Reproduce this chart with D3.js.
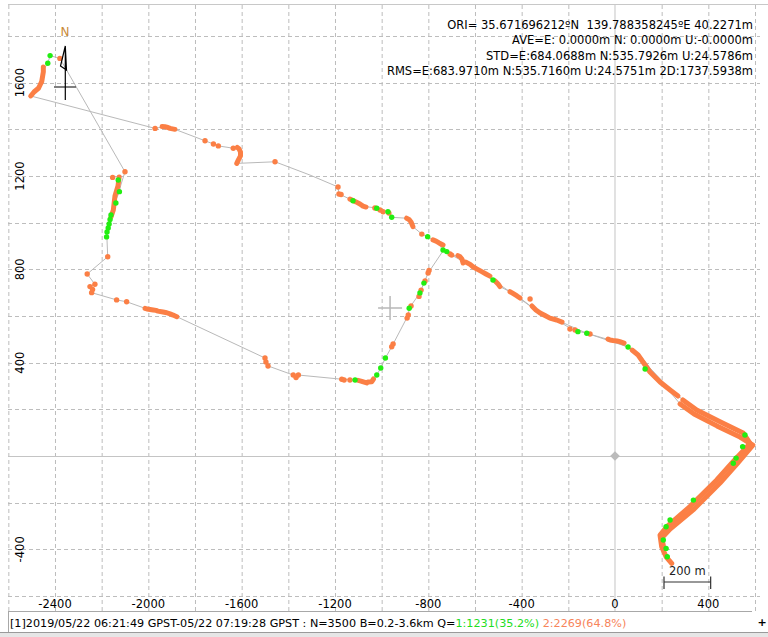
<!DOCTYPE html>
<html>
<head>
<meta charset="utf-8">
<script src="https://cdn.jsdelivr.net/npm/d3@7"></script>
<style>
  body { margin: 0; background: #fff; }
  svg { display: block; font-family: "DejaVu Sans", Tahoma, sans-serif; }
</style>
</head>
<body>
<script>
// ticks and header text
const xTicks = [-2400, -2000, -1600, -1200, -800, -400, 0, 400];
const yTicks = [1600, 1200, 800, 400, -400];
const gridX = d3.range(-2600, 601, 200);
const gridY = d3.range(-600, 1801, 200);
const statLines = [
  "ORI= 35.671696212\u00baN  139.788358245\u00baE 40.2271m",
  "AVE=E: 0.0000m N: 0.0000m U:-0.0000m",
  "STD=E:684.0688m N:535.7926m U:24.5786m",
  "RMS=E:683.9710m N:535.7160m U:24.5751m 2D:1737.5938m"
];
const statusParts = [
  ["[1]2019/05/22 06:21:49 GPST-05/22 07:19:28 GPST : N=3500 B=0.2-3.6km Q=", "#000"],
  ["1:1231(35.2%) ", "#22dd22"],
  ["2:2269(64.8%)", "#f7845a"]
];
const avgPos = [-964, 634];

// track (E, N in metres)
const trackOut = [[243,-460],[219,-432],[200,-389],[193,-339],[222,-303],[321,-217],[436,-103],[506,-24],[579,54],[570,77],[549,99],[450,147],[350,197],[291,240],[214,309],[150,377],[107,433],[56,467],[-21,497],[-121,526],[-180,540],[-250,583],[-293,597],[-351,634],[-407,677],[-450,704],[-493,726],[-523,754],[-571,790],[-609,811],[-664,854],[-700,861],[-737,883],[-764,918],[-803,940],[-828,951],[-866,983],[-893,1019],[-957,1023],[-973,1047],[-1021,1062],[-1080,1071],[-1136,1101],[-1183,1123],[-1187,1153],[-1307,1204],[-1457,1261],[-1621,1254],[-1614,1269],[-1600,1297],[-1619,1323],[-1636,1319],[-1700,1329],[-1757,1351],[-1886,1400],[-1936,1411],[-1971,1404],[-2504,1543],[-2471,1576],[-2457,1604],[-2450,1654],[-2431,1683],[-2421,1716],[-2379,1704]];
const trackLoop = [[-2379,1704],[-2100,1218],[-2118,1161],[-2124,1133],[-2139,1097],[-2150,1054],[-2164,1011],[-2178,947],[-2174,854],[-2262,780],[-2229,736],[-2250,726],[-2243,700],[-2136,669],[-2093,661],[-2014,633],[-1979,626],[-1921,614],[-1878,597],[-1500,420],[-1487,386],[-1379,347],[-1357,347],[-1171,329],[-1114,326],[-1064,313],[-1043,318],[-1021,347],[-1004,377],[-984,420],[-957,468],[-886,604],[-882,633],[-836,699],[-819,741],[-801,784],[-737,879]];
const trackBack = [[-737,879],[-700,861],[-609,811],[-523,754],[-450,704],[-351,634],[-250,583],[-121,526],[56,467],[150,377],[279,223],[339,180],[437,129],[536,81],[591,47],[523,-34],[450,-116],[339,-227],[236,-313],[201,-351],[210,-399],[243,-460]];

// float (Q=2) dense runs
const floatRuns = [
  [[-2450,1667],[-2450,1646],[-2457,1604],[-2464,1590],[-2471,1576],[-2490,1560],[-2504,1543]],
  [[-1619,1323],[-1611,1316],[-1605,1303],[-1605,1286],[-1614,1269],[-1621,1254]],
  [[-2125,1196],[-2130,1157],[-2143,1114],[-2150,1054],[-2160,1024]],
  [[-1941,1412],[-1929,1411],[-1916,1408],[-1907,1404],[-1886,1400]],
  [[-2014,633],[-2006,630],[-1979,626],[-1967,624],[-1959,621],[-1937,617],[-1921,614],[-1907,609],[-1894,604],[-1878,597]],
  [[-1136,1101],[-1127,1097],[-1110,1089],[-1093,1080],[-1080,1071],[-1067,1067]],
  [[-893,1019],[-883,1014],[-874,1003],[-866,983]],
  [[-780,926],[-767,921],[-754,913],[-737,904]],
  [[-673,859],[-664,854],[-656,844],[-651,827]],
  [[-639,831],[-621,821],[-609,811],[-591,801],[-571,790],[-553,780],[-536,771]],
  [[-514,750],[-501,737],[-493,726]],
  [[-450,704],[-441,699],[-420,686],[-407,677]],
  [[-356,643],[-339,626],[-321,613],[-300,602],[-279,591],[-250,583],[-227,574]],
  [[-30,501],[-21,497],[-9,495],[9,493],[21,490],[39,484]],
  [[73,454],[99,433],[120,403],[150,360],[193,317],[236,283],[270,257]],
  [[291,240],[350,197],[450,147],[549,99],[579,54],[506,-24],[436,-103],[321,-217],[222,-303],[193,-339],[200,-389],[219,-432],[243,-460]],
  [[279,223],[339,180],[437,129],[536,81],[591,47],[523,-34],[450,-116],[339,-227],[236,-313],[201,-351],[210,-399]],
  [[-1101,324],[-1089,321],[-1064,313],[-1059,317],[-1043,318],[-1035,330]]
];
// float (Q=2) single points
const floatPts = [[-2379,1704],[-1971,1404],[-1757,1351],[-1721,1337],[-1700,1329],[-1636,1319],[-1457,1261],
  [-2100,1218],[-2153,1194],[-2174,854],[-2262,780],[-2229,736],[-2250,726],[-2243,700],[-2239,714],[-2136,669],[-2093,661],
  [-1500,420],[-1496,403],[-1487,386],[-1379,347],[-1367,336],[-1357,347],[-1171,329],[-1161,326],[-1136,326],
  [-957,468],[-951,480],[-891,591],[-886,604],[-874,643],[-840,684],[-831,711],[-814,750],[-801,784],[-797,795],
  [-1187,1153],[-1183,1123],[-1174,1121],[-1029,1063],[-1007,1054],[-994,1047],[-969,1041],[-828,951],[-707,866],[-700,861],
  [-364,673],[-193,544],[-171,540],[-107,523]];
// fix (Q=1) points
const fixPts = [[-2421,1716],[-2431,1683],[-2129,1183],[-2124,1133],[-2139,1084],[-2160,1033],[-2164,1014],[-2168,994],[-2172,977],[-2177,960],[-2179,939],
  [-1114,326],[-1021,347],[-1004,377],[-984,420],[-882,633],[-836,699],[-819,741],
  [-1123,1094],[-1021,1062],[-973,1047],[-957,1023],[-803,940],[-737,883],[-721,876],[-523,754],[-159,533],[-121,526],[56,467],[129,373],
  [557,90],[547,40],[507,-31],[519,-9],[336,-189],[236,-274],[219,-303],[207,-360],[219,-396],[224,-432]];

const W = 768, H = 637;
const cFloat = "#fb7f45", cFix = "#22ee11", cGrid = "#bdbdbd";

const svg = d3.select("body").append("svg").attr("width", W).attr("height", H);
svg.append("rect").attr("width", W).attr("height", H).attr("fill", "#fff");

const x = d3.scaleLinear().domain([-2600, 600]).range([8.33, 755]);
const y = d3.scaleLinear().domain([-600, 1800]).range([596, 36]);

const plot = svg.append("g");
plot.append("clipPath").attr("id", "clip").append("rect")
  .attr("x", 8).attr("y", 5).attr("width", 752).attr("height", 606);

// grid
const grid = plot.append("g").attr("stroke", cGrid).attr("stroke-dasharray", "4,3");
grid.selectAll(".gx").data(gridX.filter(d => d !== 0)).enter().append("line")
  .attr("x1", d => x(d) + 0.5).attr("x2", d => x(d) + 0.5).attr("y1", 5).attr("y2", 611);
grid.selectAll(".gy").data(gridY.filter(d => d !== 0)).enter().append("line")
  .attr("y1", d => Math.round(y(d)) + 0.5).attr("y2", d => Math.round(y(d)) + 0.5).attr("x1", 8).attr("x2", 760);
plot.append("line").attr("x1", x(0)).attr("x2", x(0)).attr("y1", 5).attr("y2", 611).attr("stroke", "#c4c4c4");
plot.append("line").attr("y1", Math.round(y(0)) + 0.5).attr("y2", Math.round(y(0)) + 0.5).attr("x1", 8).attr("x2", 760).attr("stroke", "#c4c4c4");

// frame
svg.append("line").attr("x1", 8).attr("x2", W).attr("y1", 4.5).attr("y2", 4.5).attr("stroke", "#c8c8c8");

// origin diamond and average cross
plot.append("path").attr("d", d3.symbol(d3.symbolDiamond2, 60)())
  .attr("transform", `translate(${x(0)},${y(0)})`).attr("fill", "#bbbbbb");
const ax = x(avgPos[0]), ay = y(avgPos[1]);
plot.append("path").attr("d", `M${ax - 12},${ay}H${ax + 12}M${ax},${ay - 12}V${ay + 12}`)
  .attr("stroke", "#b8b8b8").attr("stroke-width", 1.5);

// track line
const line = d3.line().x(d => x(d[0])).y(d => y(d[1]));
const tr = plot.append("g").attr("clip-path", "url(#clip)");
[trackOut, trackLoop, trackBack].forEach(t => {
  tr.append("path").datum(t).attr("d", line).attr("fill", "none").attr("stroke", "#b9b9b9").attr("stroke-width", 1);
});

// float runs and points
tr.selectAll(".run").data(floatRuns).enter().append("path")
  .attr("d", line).attr("fill", "none").attr("stroke", cFloat)
  .attr("stroke-width", 5).attr("stroke-linecap", "round").attr("stroke-linejoin", "round");
tr.selectAll(".fp").data(floatPts).enter().append("circle")
  .attr("cx", d => x(d[0])).attr("cy", d => y(d[1])).attr("r", 2.7).attr("fill", cFloat);
tr.selectAll(".xp").data(fixPts).enter().append("circle")
  .attr("cx", d => x(d[0])).attr("cy", d => y(d[1])).attr("r", 2.7).attr("fill", cFix);

// north arrow
const na = svg.append("g");
na.append("text").attr("x", 65).attr("y", 36).attr("text-anchor", "middle")
  .style("font-size", "12px").attr("fill", "#c98a3a").text("N");
na.append("path").attr("d", "M65.3,46 L60.5,66 L66.5,70 Z M65.3,46 V100 M54,87 H76")
  .attr("stroke", "#000").attr("stroke-width", 1.2).attr("fill", "none");

// axis labels
const lab = svg.append("g").style("font-size", "11.5px").attr("fill", "#000");
lab.selectAll(".xl").data(xTicks).enter().append("text")
  .attr("x", d => x(d)).attr("y", 608).attr("text-anchor", "middle").text(d => d);
lab.selectAll(".yl").data(yTicks).enter().append("text")
  .attr("transform", d => `translate(24,${y(d)}) rotate(-90)`).attr("text-anchor", "middle").text(d => d);

// stats text
svg.append("g").selectAll("text").data(statLines).enter().append("text")
  .attr("x", 753).attr("y", (d, i) => 29 + i * 15.4).attr("text-anchor", "end")
  .style("font-size", "11.5px").style("white-space", "pre").text(d => d);

// scale bar
const sb = svg.append("g").attr("stroke", "#333").attr("stroke-width", 1.2);
const sb0 = x(210), sb1 = x(410);
sb.append("path").attr("d", `M${sb0},576.5V589M${sb0},582H${sb1}M${sb1},576.5V589`).attr("fill", "none");
svg.append("text").attr("x", (sb0 + sb1) / 2).attr("y", 575).attr("text-anchor", "middle")
  .style("font-size", "11.5px").attr("fill", "#222").text("200 m");

// status bar
svg.append("line").attr("x1", 8).attr("x2", 752).attr("y1", 611.5).attr("y2", 611.5).attr("stroke", "#a8a8a8");
svg.append("line").attr("x1", 8.5).attr("x2", 8.5).attr("y1", 611).attr("y2", 632).attr("stroke", "#a8a8a8");
svg.append("rect").attr("x", 0).attr("y", 632).attr("width", W).attr("height", 5).attr("fill", "#e6e6e6");
svg.append("line").attr("x1", 0).attr("x2", W).attr("y1", 632.5).attr("y2", 632.5).attr("stroke", "#9a9a9a");
const st = svg.append("text").attr("x", 10).attr("y", 627).style("font-size", "11.2px").style("white-space", "pre");
st.selectAll("tspan").data(statusParts).enter().append("tspan")
  .attr("fill", d => d[1]).text(d => d[0]);
svg.append("text").attr("x", 762).attr("y", 626).attr("text-anchor", "middle")
  .style("font-size", "11px").style("font-weight", "bold").text("+");
</script>
</body>
</html>
